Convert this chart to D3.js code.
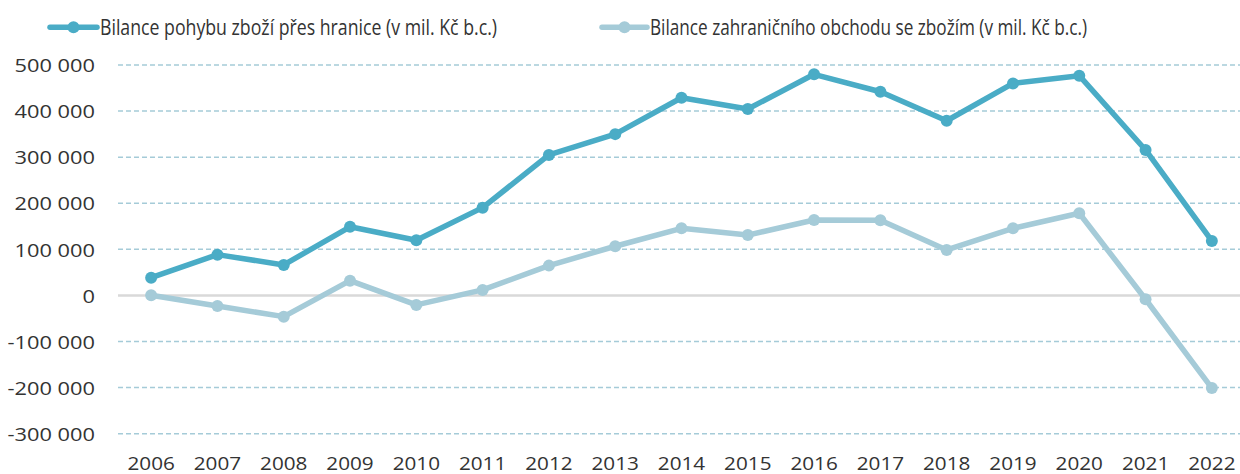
<!DOCTYPE html>
<html>
<head>
<meta charset="utf-8">
<script src="https://cdn.jsdelivr.net/npm/d3@7"></script>
<style>
  body { margin: 0; background: #fff; }
  text { font-family: "Open Sans", sans-serif; fill: #333333; }
</style>
</head>
<body>
<div id="chart"></div>
<script>
const years = [2006, 2007, 2008, 2009, 2010, 2011, 2012, 2013, 2014, 2015, 2016, 2017, 2018, 2019, 2020, 2021, 2022];
const pohybZbozi = [38600, 88500, 66200, 149000, 119700, 190500, 304800, 350000, 429000, 404600, 479800, 442000, 379000, 460000, 476800, 315600, 118200];
const zahranicniObchod = [500, -22800, -46000, 32000, -20600, 12000, 64700, 106700, 145700, 131000, 163800, 163000, 98700, 145700, 178300, -8300, -201000];
const yTicks = [-300000, -200000, -100000, 0, 100000, 200000, 300000, 400000, 500000];
const seriesNames = ["Bilance pohybu zboží přes hranice (v mil. Kč b.c.)", "Bilance zahraničního obchodu se zbožím (v mil. Kč b.c.)"];

const width = 1240, height = 474;
const margin = {top: 65, right: -5, bottom: 40, left: 118};
const colors = ["#4aacc6", "#a5cbd8"];
const sx = 1.18;

const svg = d3.select("#chart")
    .append("svg")
    .attr("width", width)
    .attr("height", height);

const x = d3.scaleBand()
    .domain(years)
    .range([margin.left, width - margin.right])
    .padding(0);

const y = d3.scaleLinear()
    .domain([-300000, 500000])
    .range([433.7, margin.top]);

const locale = d3.formatLocale({decimal: ",", thousands: " ", grouping: [3], currency: ["", ""], minus: "-"});
const fmt = locale.format(",d");

// gridlines
svg.append("g")
    .selectAll("line")
    .data(yTicks)
    .join("line")
    .attr("x1", margin.left)
    .attr("x2", width)
    .attr("y1", d => y(d))
    .attr("y2", d => y(d))
    .attr("stroke", d => d === 0 ? "#d9d9d9" : "#a5cbd8")
    .attr("stroke-width", d => d === 0 ? 2.5 : 1.5)
    .attr("stroke-dasharray", d => d === 0 ? null : "5,3");

// y axis labels
const yAxis = svg.append("g")
    .attr("transform", `translate(${margin.left},0)`)
    .call(d3.axisLeft(y).tickValues(yTicks).tickFormat(fmt).tickSize(0));
yAxis.select(".domain").remove();
yAxis.selectAll("text")
    .attr("font-family", null)
    .attr("font-size", 18.5)
    .attr("x", -23 / sx)
    .attr("dy", "0.36em")
    .attr("transform", `scale(${sx},1)`);

// x axis labels
const xAxis = svg.append("g")
    .attr("transform", `translate(0,${452})`)
    .call(d3.axisBottom(x).tickSize(0));
xAxis.select(".domain").remove();
xAxis.selectAll("text")
    .attr("font-family", null)
    .attr("font-size", 18.5)
    .attr("y", 0)
    .attr("dy", "0.95em")
    .attr("transform", `scale(1.12,1)`)
    .attr("x", 0);

const cx = d => x(d) + x.bandwidth() / 2;

const line = d3.line()
    .x(d => cx(d.year))
    .y(d => y(d.value));

[zahranicniObchod, pohybZbozi].forEach((vals, k) => {
    const i = 1 - k;
    const data = years.map((yr, j) => ({year: yr, value: vals[j]}));
    const g = svg.append("g");
    g.append("path")
        .datum(data)
        .attr("fill", "none")
        .attr("stroke", colors[i])
        .attr("stroke-width", 5.5)
        .attr("stroke-linejoin", "round")
        .attr("d", line);
    g.selectAll("circle")
        .data(data)
        .join("circle")
        .attr("cx", d => cx(d.year))
        .attr("cy", d => y(d.value))
        .attr("r", 6)
        .attr("fill", colors[i]);
});

// legend
const legendPos = [{x0: 50, x1: 97, tx: 100, w: 397}, {x0: 602, x1: 647, tx: 650, w: 437}];
seriesNames.forEach((name, i) => {
    const p = legendPos[i];
    const g = svg.append("g");
    g.append("line")
        .attr("x1", p.x0).attr("x2", p.x1)
        .attr("y1", 27.3).attr("y2", 27.3)
        .attr("stroke", colors[i])
        .attr("stroke-width", 5.5)
        .attr("stroke-linecap", "round");
    g.append("circle")
        .attr("cx", (p.x0 + p.x1) / 2)
        .attr("cy", 27.3)
        .attr("r", 6)
        .attr("fill", colors[i]);
    g.append("text")
        .attr("x", p.tx)
        .attr("y", 34.5)
        .attr("font-size", 21.5)
        .attr("textLength", p.w)
        .attr("lengthAdjust", "spacingAndGlyphs")
        .text(name);
});
</script>
</body>
</html>
